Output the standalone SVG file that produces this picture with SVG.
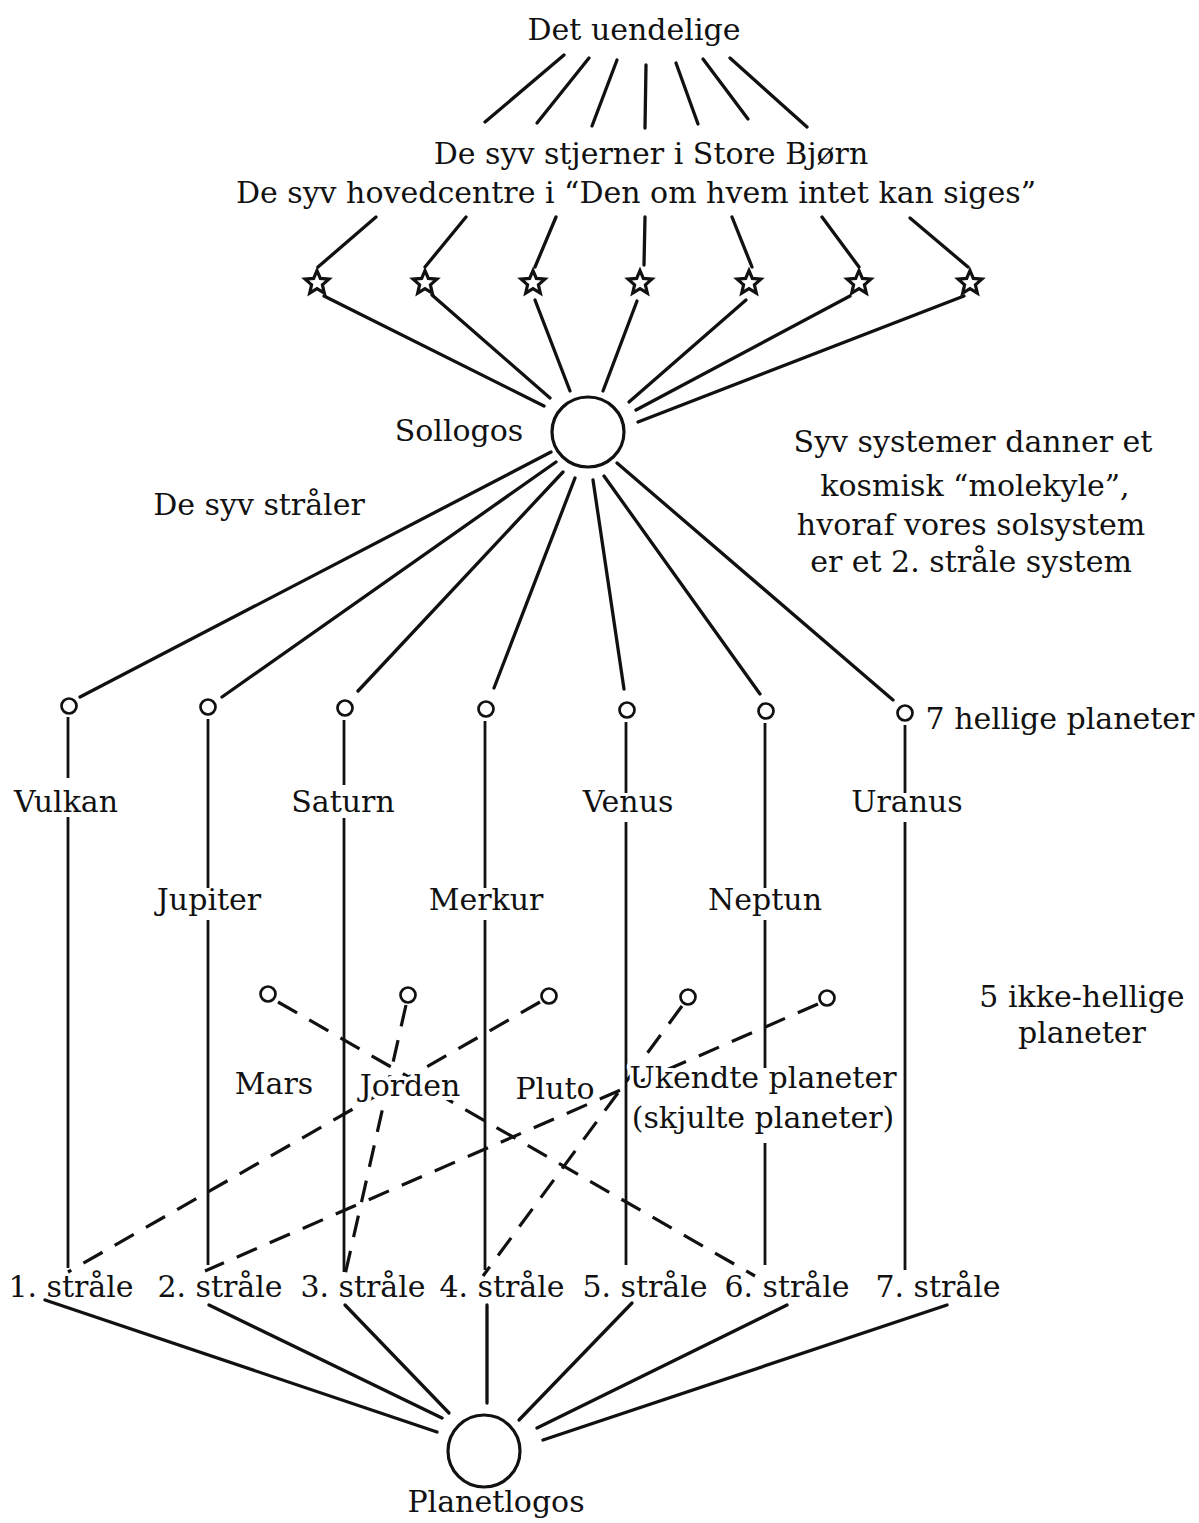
<svg xmlns="http://www.w3.org/2000/svg" width="1199" height="1523" viewBox="0 0 1199 1523">
<style>
.ln{stroke:#111;stroke-width:3.3;stroke-linecap:round;fill:none}
.vl{stroke:#111;stroke-width:2.8;fill:none}
.dash{stroke:#111;stroke-width:3.2;fill:none;stroke-dasharray:22 14}
.t{font-family:"DejaVu Serif","Liberation Serif",serif;font-size:30px;fill:#111;text-anchor:middle}
.halo{paint-order:stroke;stroke:#fff;stroke-width:8;stroke-linejoin:round}
.pc{fill:#fff;stroke:#111;stroke-width:2.7}
.big{fill:#fff;stroke:#111;stroke-width:3.2}
.star{fill:#fff;stroke:#111;stroke-width:3.2;stroke-linejoin:miter}
</style>
<defs>
<polygon id="starShape" points="0,-12.5 3.35,-4.6 11.9,-3.86 5.4,1.76 7.35,10.1 0,5.7 -7.35,10.1 -5.4,1.76 -11.9,-3.86 -3.35,-4.6"/>
</defs>
<rect width="1199" height="1523" fill="#fff"/>
<g id="connectors">
<line class="ln" x1="564" y1="55" x2="485" y2="122"/>
<line class="ln" x1="589" y1="58" x2="537" y2="123"/>
<line class="ln" x1="617" y1="60" x2="592" y2="126"/>
<line class="ln" x1="646" y1="65" x2="645" y2="128"/>
<line class="ln" x1="676" y1="63" x2="698" y2="124"/>
<line class="ln" x1="703" y1="59" x2="748" y2="119"/>
<line class="ln" x1="730" y1="58" x2="807" y2="127"/>
<line class="ln" x1="376" y1="217" x2="318" y2="267"/>
<line class="ln" x1="466" y1="217" x2="425" y2="267"/>
<line class="ln" x1="556" y1="217" x2="535" y2="267"/>
<line class="ln" x1="645" y1="217" x2="644" y2="265"/>
<line class="ln" x1="732" y1="217" x2="752" y2="267"/>
<line class="ln" x1="822" y1="217" x2="859" y2="267"/>
<line class="ln" x1="910" y1="218" x2="968" y2="267"/>
<line class="ln" x1="324" y1="296" x2="544" y2="406"/>
<line class="ln" x1="432" y1="295" x2="550" y2="398"/>
<line class="ln" x1="535" y1="300" x2="570" y2="391"/>
<line class="ln" x1="637" y1="301" x2="603" y2="391"/>
<line class="ln" x1="746" y1="300" x2="629" y2="402"/>
<line class="ln" x1="850" y1="296" x2="636" y2="410"/>
<line class="ln" x1="964" y1="296" x2="638" y2="422"/>
<line class="ln" x1="551" y1="452" x2="80" y2="697"/>
<line class="ln" x1="556" y1="462" x2="222" y2="697"/>
<line class="ln" x1="563" y1="472" x2="358" y2="691"/>
<line class="ln" x1="575" y1="478" x2="494" y2="688"/>
<line class="ln" x1="593" y1="480" x2="624" y2="689"/>
<line class="ln" x1="604" y1="476" x2="760" y2="694"/>
<line class="ln" x1="617" y1="463" x2="893" y2="700"/>
<path class="vl" d="M68,717 V778 M68,817 V1268"/>
<path class="vl" d="M208,719 V888 M208,920 V1265"/>
<path class="vl" d="M344,720 V785 M344,818 V1272"/>
<path class="vl" d="M485,721 V888 M485,920 V1270"/>
<path class="vl" d="M626,722 V793 M626,822 V1265"/>
<path class="vl" d="M765,723 V888 M765,920 V1068 M765,1143 V1265"/>
<path class="vl" d="M905,725 V793 M905,822 V1270"/>
<line class="dash" x1="278" y1="1002" x2="755" y2="1276"/>
<line class="dash" x1="406" y1="1005" x2="345" y2="1275"/>
<line class="dash" x1="540" y1="1002" x2="68" y2="1272"/>
<line class="dash" x1="682" y1="1006" x2="483" y2="1276"/>
<line class="dash" x1="818" y1="1004" x2="205" y2="1271"/>
<line class="ln" x1="45" y1="1300" x2="437" y2="1432"/>
<line class="ln" x1="209" y1="1305" x2="442" y2="1418"/>
<line class="ln" x1="345" y1="1305" x2="449" y2="1413"/>
<line class="ln" x1="487" y1="1305" x2="487" y2="1403"/>
<line class="ln" x1="632" y1="1303" x2="519" y2="1420"/>
<line class="ln" x1="787" y1="1305" x2="537" y2="1428"/>
<line class="ln" x1="947" y1="1305" x2="543" y2="1440"/>
</g>
<g id="det-uendelige"><text class="t" x="634" y="40">Det uendelige</text></g>
<g id="store-bjorn">
<text class="t" x="651" y="164">De syv stjerner i Store Bjørn</text>
<text class="t" x="636" y="203">De syv hovedcentre i “Den om hvem intet kan siges”</text>
</g>
<g id="stars">
<use href="#starShape" class="star" x="317" y="283"/>
<use href="#starShape" class="star" x="425" y="283"/>
<use href="#starShape" class="star" x="533" y="283"/>
<use href="#starShape" class="star" x="640" y="283"/>
<use href="#starShape" class="star" x="749" y="283"/>
<use href="#starShape" class="star" x="859" y="283"/>
<use href="#starShape" class="star" x="970" y="283"/>
</g>
<g id="sollogos">
<ellipse class="big" cx="588" cy="432" rx="36" ry="35"/>
<text class="t" x="459" y="441">Sollogos</text>
</g>
<g id="note-molekyle">
<text class="t" x="973" y="452">Syv systemer danner et</text>
<text class="t" x="975" y="496">kosmisk “molekyle”,</text>
<text class="t" x="971" y="535">hvoraf vores solsystem</text>
<text class="t" x="971" y="572">er et 2. stråle system</text>
</g>
<g id="syv-straler"><text class="t" x="259" y="515">De syv stråler</text></g>
<g id="holy-planets">
<circle class="pc" cx="69" cy="706" r="7.5"/>
<circle class="pc" cx="208" cy="707" r="7.5"/>
<circle class="pc" cx="345" cy="708" r="7.5"/>
<circle class="pc" cx="486" cy="709" r="7.5"/>
<circle class="pc" cx="627" cy="710" r="7.5"/>
<circle class="pc" cx="766" cy="711" r="7.5"/>
<circle class="pc" cx="905" cy="713" r="7.5"/>
<text class="t" x="1060" y="729">7 hellige planeter</text>
</g>
<g id="vulkan"><text class="t" x="66" y="812">Vulkan</text></g>
<g id="saturn"><text class="t" x="343" y="812">Saturn</text></g>
<g id="venus"><text class="t" x="628" y="812">Venus</text></g>
<g id="uranus"><text class="t" x="907" y="812">Uranus</text></g>
<g id="jupiter"><text class="t" x="209" y="910">Jupiter</text></g>
<g id="merkur"><text class="t" x="486" y="910">Merkur</text></g>
<g id="neptun"><text class="t" x="765" y="910">Neptun</text></g>
<g id="non-sacred-planets">
<circle class="pc" cx="268" cy="994" r="7.5"/>
<circle class="pc" cx="408" cy="995" r="7.5"/>
<circle class="pc" cx="549" cy="996" r="7.5"/>
<circle class="pc" cx="688" cy="997" r="7.5"/>
<circle class="pc" cx="827" cy="998" r="7.5"/>
<text class="t" x="1082" y="1007">5 ikke-hellige</text>
<text class="t" x="1082" y="1043">planeter</text>
</g>
<g id="mars"><text class="t halo" x="274" y="1094">Mars</text></g>
<g id="jorden"><text class="t halo" x="410" y="1096">Jorden</text></g>
<g id="pluto"><text class="t halo" x="555" y="1099">Pluto</text></g>
<g id="ukendte">
<text class="t halo" x="763" y="1088">Ukendte planeter</text>
<text class="t" x="763" y="1128">(skjulte planeter)</text>
</g>
<g id="rays">
<text class="t" x="71" y="1297">1. stråle</text>
<text class="t" x="220" y="1297">2. stråle</text>
<text class="t" x="363" y="1297">3. stråle</text>
<text class="t" x="502" y="1297">4. stråle</text>
<text class="t" x="645" y="1297">5. stråle</text>
<text class="t" x="787" y="1297">6. stråle</text>
<text class="t" x="938" y="1297">7. stråle</text>
</g>
<g id="planetlogos">
<ellipse class="big" cx="484" cy="1451" rx="36" ry="36"/>
<text class="t" x="496" y="1512">Planetlogos</text>
</g>
</svg>
